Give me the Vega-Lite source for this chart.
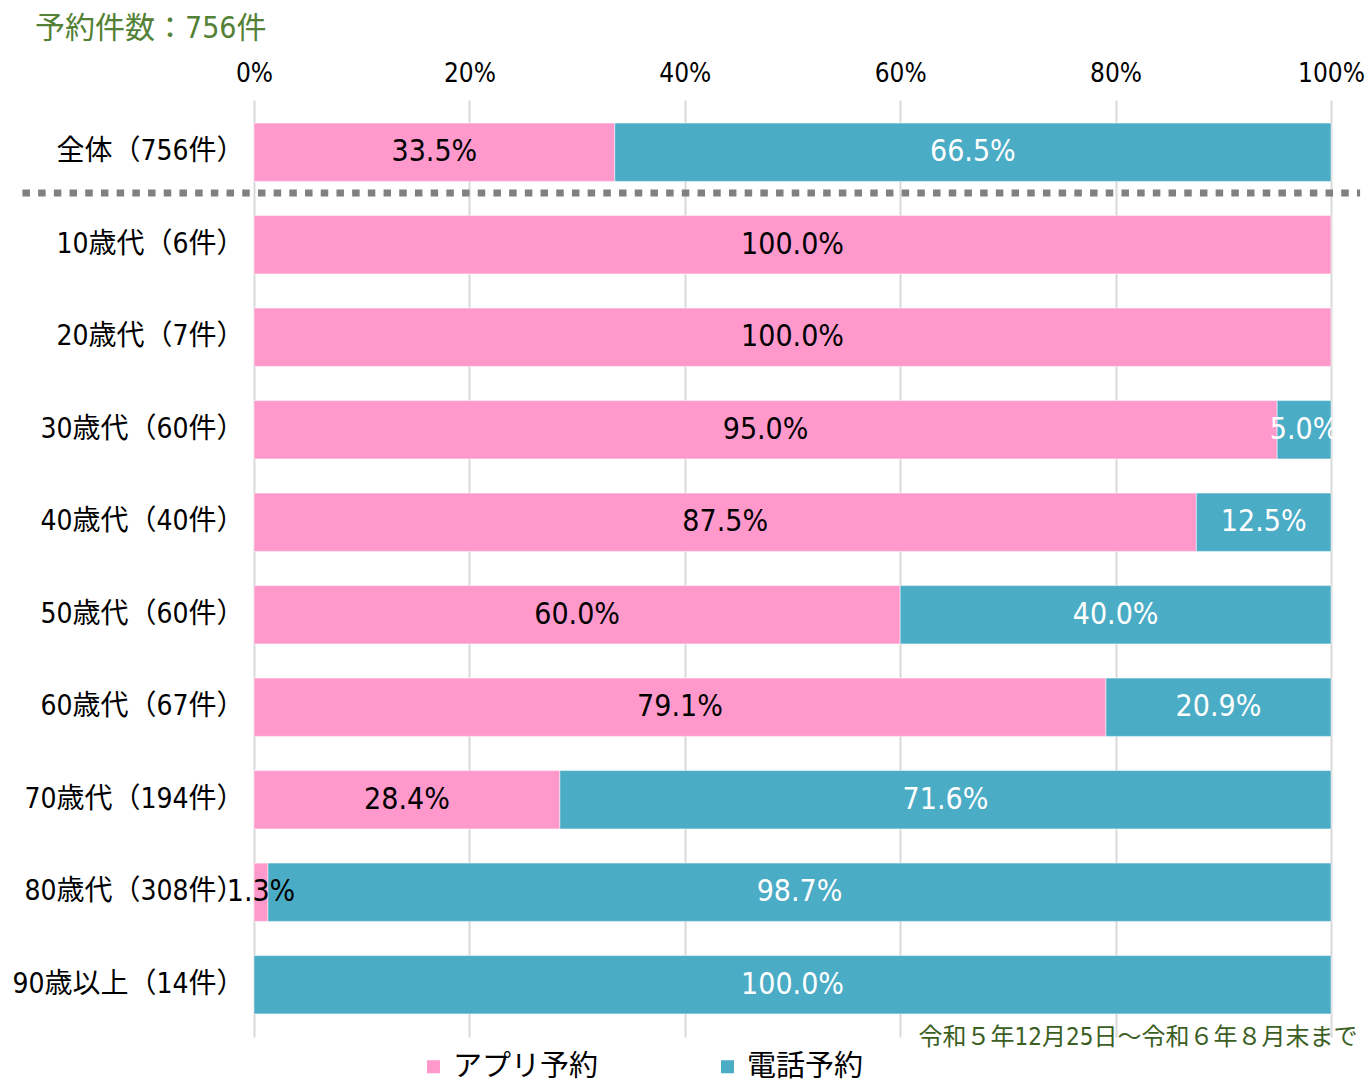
{
  "$schema": "https://vega.github.io/schema/vega-lite/v6.json",
  "width": 1077,
  "height": 937,
  "autosize": "none",
  "padding": {"left": 254, "top": 100, "right": 35, "bottom": 47},
  "background": "white",
  "config": {
    "font": "Liberation Sans Narrow, DejaVu Sans Condensed, Noto Sans CJK JP",
    "view": {"stroke": null}
  },
  "title": {
    "text": "予約件数：756件",
    "anchor": "start",
    "frame": "group",
    "dx": -219,
    "fontSize": 30,
    "fontWeight": "normal",
    "color": "#538135",
    "offset": 16
  },
  "data": {
    "values": [
      {"group": "全体（756件）", "type": "アプリ予約", "share": 0.335},
      {"group": "全体（756件）", "type": "電話予約", "share": 0.665},
      {"group": "10歳代（6件）", "type": "アプリ予約", "share": 1.0},
      {"group": "20歳代（7件）", "type": "アプリ予約", "share": 1.0},
      {"group": "30歳代（60件）", "type": "アプリ予約", "share": 0.95},
      {"group": "30歳代（60件）", "type": "電話予約", "share": 0.05},
      {"group": "40歳代（40件）", "type": "アプリ予約", "share": 0.875},
      {"group": "40歳代（40件）", "type": "電話予約", "share": 0.125},
      {"group": "50歳代（60件）", "type": "アプリ予約", "share": 0.6},
      {"group": "50歳代（60件）", "type": "電話予約", "share": 0.4},
      {"group": "60歳代（67件）", "type": "アプリ予約", "share": 0.791},
      {"group": "60歳代（67件）", "type": "電話予約", "share": 0.209},
      {"group": "70歳代（194件）", "type": "アプリ予約", "share": 0.284},
      {"group": "70歳代（194件）", "type": "電話予約", "share": 0.716},
      {"group": "80歳代（308件）", "type": "アプリ予約", "share": 0.013},
      {"group": "80歳代（308件）", "type": "電話予約", "share": 0.987},
      {"group": "90歳以上（14件）", "type": "電話予約", "share": 1.0}
    ]
  },
  "encoding": {
    "y": {
      "field": "group",
      "type": "nominal",
      "sort": ["全体（756件）", "10歳代（6件）", "20歳代（7件）", "30歳代（60件）", "40歳代（40件）", "50歳代（60件）", "60歳代（67件）", "70歳代（194件）", "80歳代（308件）", "90歳以上（14件）"],
      "scale": {"paddingInner": 0.37, "paddingOuter": 0.25},
      "axis": {
        "title": null,
        "ticks": false,
        "domain": false,
        "labelFontSize": 28,
        "labelColor": "#000000",
        "labelPadding": 10,
        "labelLimit": 300
      }
    }
  },
  "layer": [
    {
      "mark": {"type": "bar", "stroke": "white", "strokeWidth": 0.5},
      "encoding": {
        "x": {
          "field": "share",
          "type": "quantitative",
          "stack": "zero",
          "scale": {"domain": [0, 1], "nice": false},
          "axis": {
            "orient": "top",
            "title": null,
            "format": "%",
            "values": [0, 0.2, 0.4, 0.6, 0.8, 1],
            "ticks": false,
            "domain": false,
            "labelFlush": false,
            "labelFontSize": 26,
            "labelColor": "#000000",
            "labelPadding": 14,
            "grid": true,
            "gridColor": "#d9d9d9",
            "gridWidth": 2
          }
        },
        "order": {"field": "type", "sort": "ascending"},
        "color": {
          "field": "type",
          "type": "nominal",
          "scale": {"domain": ["アプリ予約", "電話予約"], "range": ["#FF99CC", "#4BACC6"]},
          "legend": {
            "orient": "none",
            "legendX": 165,
            "legendY": 952,
            "direction": "horizontal",
            "title": null,
            "symbolType": "square",
            "symbolSize": 170,
            "symbolStrokeWidth": 0,
            "labelFontSize": 29,
            "labelColor": "#000000",
            "labelOffset": 5,
            "columnPadding": 114
          }
        }
      }
    },
    {
      "mark": {"type": "text", "fontSize": 30, "align": "center", "baseline": "middle"},
      "encoding": {
        "x": {
          "field": "share",
          "type": "quantitative",
          "stack": "zero",
          "bandPosition": 0.5,
          "axis": {
            "orient": "bottom",
            "labels": false,
            "ticks": false,
            "domain": false,
            "grid": false,
            "title": "令和５年12月25日～令和６年８月末まで",
            "titleAnchor": "end",
            "titleAlign": "right",
            "titleX": 1103,
            "titleY": 0,
            "titleBaseline": "middle",
            "titleFontSize": 24,
            "titleFontWeight": "normal",
            "titleColor": "#3B5E23"
          }
        },
        "order": {"field": "type", "sort": "ascending"},
        "text": {"field": "share", "type": "quantitative", "format": ".1%"},
        "color": {
          "condition": {"test": "datum.type === '電話予約'", "value": "white"},
          "value": "black"
        }
      }
    },
    {
      "data": {"values": [{"line": "divider"}]},
      "mark": {"type": "rule", "color": "#808080", "strokeWidth": 7, "strokeDash": [7.5, 8.2]},
      "encoding": {
        "y": {"datum": "全体（756件）", "type": "nominal", "bandPosition": 1.2},
        "x": {"datum": -0.215, "type": "quantitative", "axis": null},
        "x2": {"datum": 1.027}
      }
    }
  ]
}
